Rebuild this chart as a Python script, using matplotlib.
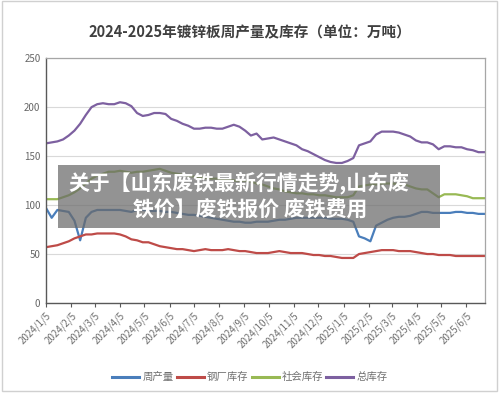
import matplotlib
matplotlib.use("Agg")
import matplotlib.pyplot as plt
from matplotlib.patches import Rectangle
import pandas as pd

plt.rcParams['font.family'] = ['Noto Sans CJK SC', 'DejaVu Sans']

# weekly data, starting 2024/1/5
start_date = "2024-01-05"

weekly_output = [97, 87, 95, 94, 93, 84, 64, 87, 93, 95, 95, 95, 95, 95, 94, 93, 95, 95, 94, 94,
                 94, 93, 93, 92, 91, 90, 90, 89, 88, 87, 86, 85, 84, 83, 83, 82, 82, 83, 83, 83,
                 84, 85, 85, 86, 87, 87, 87, 87, 87, 87, 86, 86, 86, 85, 83, 68, 66, 63, 79, 82,
                 85, 87, 88, 88, 89, 91, 93, 93, 92, 92, 92, 92, 93, 93, 92, 92, 91, 91]

mill_stock = [57, 58, 59, 61, 63, 66, 68, 70, 70, 71, 71, 71, 71, 70, 68, 65, 64, 62, 62, 60,
              58, 57, 56, 55, 55, 54, 53, 54, 55, 54, 54, 54, 55, 54, 53, 53, 52, 51, 51, 51,
              52, 53, 52, 51, 51, 51, 50, 49, 49, 48, 48, 47, 46, 46, 46, 50, 51, 52, 53, 54,
              54, 54, 53, 53, 53, 52, 51, 50, 50, 49, 49, 49, 48, 48, 48, 48, 48, 48]

social_stock = [106, 106, 106, 108, 110, 113, 117, 122, 127, 130, 132, 134, 134, 135, 134, 133, 134, 134, 135, 136,
                137, 135, 133, 132, 131, 130, 129, 128, 128, 127, 127, 126, 126, 125, 125, 125, 124, 122, 121, 119,
                117, 116, 114, 113, 112, 112, 111, 111, 110, 110, 109, 108, 108, 108, 110, 119, 120, 121, 121, 122,
                122, 122, 121, 121, 119, 117, 116, 116, 112, 108, 111, 111, 111, 110, 109, 107, 107, 107]

total_stock = [163, 164, 165, 167, 171, 176, 183, 192, 200, 203, 204, 203, 203, 205, 204, 201, 194, 191, 192, 194,
               194, 193, 188, 186, 183, 181, 178, 178, 179, 179, 178, 178, 180, 182, 180, 176, 171, 173, 167, 168,
               169, 167, 165, 163, 161, 157, 155, 152, 149, 146, 144, 143, 143, 145, 148, 161, 163, 165, 172, 175,
               175, 175, 174, 172, 170, 166, 164, 164, 162, 157, 160, 160, 159, 159, 157, 156, 154, 154]

series_names = ["周产量", "钢厂库存", "社会库存", "总库存"]
series_colors = ["#4a7ebb", "#be4b48", "#98b954", "#7d60a0"]

x_tick_labels = ["2024/1/5", "2024/2/5", "2024/3/5", "2024/4/5", "2024/5/5", "2024/6/5",
                 "2024/7/5", "2024/8/5", "2024/9/5", "2024/10/5", "2024/11/5", "2024/12/5",
                 "2025/1/5", "2025/2/5", "2025/3/5", "2025/4/5", "2025/5/5", "2025/6/5"]
y_ticks = [0, 50, 100, 150, 200, 250]

title = "2024-2025年镀锌板周产量及库存（单位：万吨）"
banner_lines = ["关于【山东废铁最新行情走势,山东废", "铁价】废铁报价 废铁费用"]

dates = pd.date_range(start_date, periods=len(weekly_output), freq="7D")

fig = plt.figure(figsize=(5.0, 3.93), dpi=100)
ax = fig.add_axes([0.092, 0.229, 0.878, 0.623])

all_series = [weekly_output, mill_stock, social_stock, total_stock]
for vals, name, col in zip(all_series, series_names, series_colors):
    ax.plot(dates, vals, color=col, lw=1.6, label=name, solid_joinstyle="round")

ax.set_ylim(0, 250)
ax.set_yticks(y_ticks)
ax.yaxis.grid(True, color="#d9d9d9", lw=0.8)
ax.set_axisbelow(True)
ax.tick_params(axis="y", length=0, labelsize=7, labelcolor="#666666", pad=4)

tick_pos = pd.to_datetime(x_tick_labels, format="%Y/%m/%d")
ax.set_xlim(pd.Timestamp(start_date), pd.Timestamp("2025-06-28"))
ax.set_xticks(tick_pos)
ax.set_xticklabels(x_tick_labels, rotation=45, ha="right", rotation_mode="anchor")
ax.tick_params(axis="x", length=3, color="#595959", labelsize=7, labelcolor="#707070", pad=2)

for s in ["top", "right"]:
    ax.spines[s].set_color("#a6a6a6")
    ax.spines[s].set_linewidth(0.9)
for s in ["left", "bottom"]:
    ax.spines[s].set_color("#595959")
    ax.spines[s].set_linewidth(1.0)

fig.text(0.5, 0.918, title, ha="center", va="center", fontsize=10.5,
         fontweight="bold", color="#404040")

leg = fig.legend(loc="center", bbox_to_anchor=(0.5, 0.04), ncol=4, frameon=False,
                 fontsize=7.5, handlelength=2.6, columnspacing=0.3, handletextpad=0.3)
for t in leg.get_texts():
    t.set_color("#707070")
for h in leg.get_lines():
    h.set_linewidth(2.2)

# outer chart border
fig.patches.append(Rectangle((0.004, 0.004), 0.99, 0.993, transform=fig.transFigure,
                             fill=False, edgecolor="#d0d0d0", lw=1.0))

# overlay banner
fig.patches.append(Rectangle((58 / 500, 1 - 228 / 393), 382 / 500, 63 / 393,
                             transform=fig.transFigure, facecolor="#6a6a6a",
                             alpha=0.72, edgecolor="none", zorder=10))
fig.text(0.478, 1 - 183 / 393, banner_lines[0], ha="center", va="center", fontsize=15,
         fontweight="bold", color="white", zorder=11)
fig.text(0.5, 1 - 210 / 393, banner_lines[1], ha="center", va="center", fontsize=15,
         fontweight="bold", color="white", zorder=11)

fig.savefig("out.png", dpi=100)
